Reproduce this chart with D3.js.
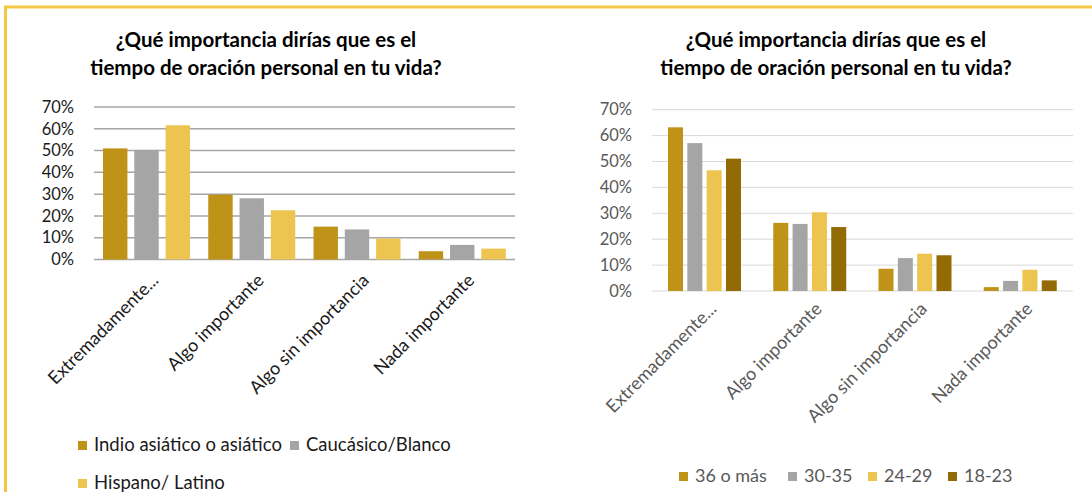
<!DOCTYPE html>
<html>
<head>
<meta charset="utf-8">
<script src="https://cdn.jsdelivr.net/npm/d3@7"></script>
<style>
  body { margin: 0; background: #fff; }
  svg { display: block; font-family: Lato, "Open Sans", sans-serif; }
</style>
</head>
<body>
<svg id="plot" width="1092" height="492"></svg>
<script>
// data
var categories = ["Extremadamente...", "Algo importante", "Algo sin importancia", "Nada importante"];
var titleLines = ["¿Qué importancia dirías que es el", "tiempo de oración personal en tu vida?"];
var yTicks = [0, 0.1, 0.2, 0.3, 0.4, 0.5, 0.6, 0.7];

// left chart: by ethnicity
var ethnicSeries = ["Indio asiático o asiático", "Caucásico/Blanco", "Hispano/ Latino"];
var ethnicValues = [
  [0.51, 0.298, 0.151, 0.038],   // Indio asiático o asiático
  [0.503, 0.281, 0.138, 0.067],  // Caucásico/Blanco
  [0.616, 0.226, 0.096, 0.05]    // Hispano/ Latino
];

// right chart: by age
var ageSeries = ["36 o más", "30-35", "24-29", "18-23"];
var ageValues = [
  [0.632, 0.263, 0.086, 0.015],  // 36 o más
  [0.571, 0.259, 0.127, 0.039],  // 30-35
  [0.466, 0.304, 0.144, 0.082],  // 24-29
  [0.511, 0.247, 0.138, 0.041]   // 18-23
];

var svg = d3.select("#plot");

// yellow frame (top and left edges)
svg.append("line").attr("x1", 4).attr("x2", 1092).attr("y1", 7).attr("y2", 7)
    .attr("stroke", "#f2c744").attr("stroke-width", 3);
svg.append("line").attr("x1", 5.5).attr("x2", 5.5).attr("y1", 6).attr("y2", 492)
    .attr("stroke", "#f2c744").attr("stroke-width", 3);

drawChart({
  series: ethnicSeries, values: ethnicValues,
  colors: ["#bf9318", "#a5a5a5", "#edc44f"],
  x0: 94, x1: 515, yTop: 107, yBottom: 259.5,
  sub: [9, 96], subPad: 0.22,
  titleX: 266,
  grid: "#a6a6a6", gridW: 1.5,
  tickColor: "#1a1a1a", labelColor: "#1a1a1a",
  labelDx: 13, labelDy: 22,
  legend: [
    {x: 78, y: 441}, {x: 290, y: 441}, {x: 78, y: 479}
  ],
  legendColor: "#1a1a1a", legendSize: 18.5
});

drawChart({
  series: ageSeries, values: ageValues,
  colors: ["#bf9318", "#a5a5a5", "#edc44f", "#936b05"],
  x0: 652, x1: 1073, yTop: 109.7, yBottom: 291,
  sub: [16, 89], subPad: 0.223,
  titleX: 836,
  grid: "#d9d9d9", gridW: 1,
  tickColor: "#595959", labelColor: "#595959",
  labelDx: 13, labelDy: 19,
  legend: [
    {x: 679, y: 472}, {x: 788, y: 472}, {x: 868, y: 472}, {x: 948, y: 472}
  ],
  legendColor: "#595959", legendSize: 18
});

function drawChart(cfg) {
  var g = svg.append("g");

  var x = d3.scaleBand().domain(categories).range([cfg.x0, cfg.x1]).padding(0);
  var xSub = d3.scaleBand().domain(d3.range(cfg.series.length))
      .range(cfg.sub).paddingInner(cfg.subPad).paddingOuter(0);
  var y = d3.scaleLinear().domain([0, 0.7]).range([cfg.yBottom, cfg.yTop]);

  // title
  g.selectAll(".title").data(titleLines).enter().append("text")
      .attr("x", cfg.titleX)
      .attr("y", function(d, i) { return 47 + i * 28; })
      .attr("text-anchor", "middle")
      .attr("font-weight", "bold")
      .attr("font-size", 20.5)
      .attr("fill", "#000")
      .text(function(d) { return d; });

  // gridlines
  g.selectAll(".grid").data(yTicks).enter().append("line")
      .attr("x1", cfg.x0).attr("x2", cfg.x1)
      .attr("y1", function(d) { return y(d); })
      .attr("y2", function(d) { return y(d); })
      .attr("stroke", cfg.grid)
      .attr("stroke-width", cfg.gridW);

  // y axis labels
  var yAxis = d3.axisLeft(y).tickValues(yTicks).tickFormat(d3.format(".0%")).tickSize(0).tickPadding(20);
  var ya = g.append("g").attr("transform", "translate(" + cfg.x0 + ",0)").call(yAxis);
  ya.select(".domain").remove();
  ya.selectAll("text").attr("font-size", 16.5).attr("fill", cfg.tickColor)
      .attr("font-family", "Lato, sans-serif");

  // bars
  cfg.series.forEach(function(s, si) {
    g.selectAll(".bar" + si).data(cfg.values[si]).enter().append("rect")
        .attr("x", function(d, ci) { return x(categories[ci]) + xSub(si); })
        .attr("y", function(d) { return y(d); })
        .attr("width", xSub.bandwidth())
        .attr("height", function(d) { return y(0) - y(d); })
        .attr("fill", cfg.colors[si]);
  });

  // category labels, rotated
  g.selectAll(".cat").data(categories).enter().append("text")
      .attr("transform", function(d) {
        var cx = x(d) + x.bandwidth() / 2 + cfg.labelDx;
        return "translate(" + cx + "," + (cfg.yBottom + cfg.labelDy) + ") rotate(-45)";
      })
      .attr("text-anchor", "end")
      .attr("font-size", 18)
      .attr("fill", cfg.labelColor)
      .text(function(d) { return d; });

  // legend
  var lg = g.selectAll(".leg").data(cfg.series).enter().append("g")
      .attr("transform", function(d, i) { return "translate(" + cfg.legend[i].x + "," + cfg.legend[i].y + ")"; });
  lg.append("rect").attr("width", 9).attr("height", 9)
      .attr("fill", function(d, i) { return cfg.colors[i]; });
  lg.append("text").attr("x", 16).attr("y", 10)
      .attr("font-size", cfg.legendSize)
      .attr("fill", cfg.legendColor)
      .text(function(d) { return d; });
}
</script>
</body>
</html>
